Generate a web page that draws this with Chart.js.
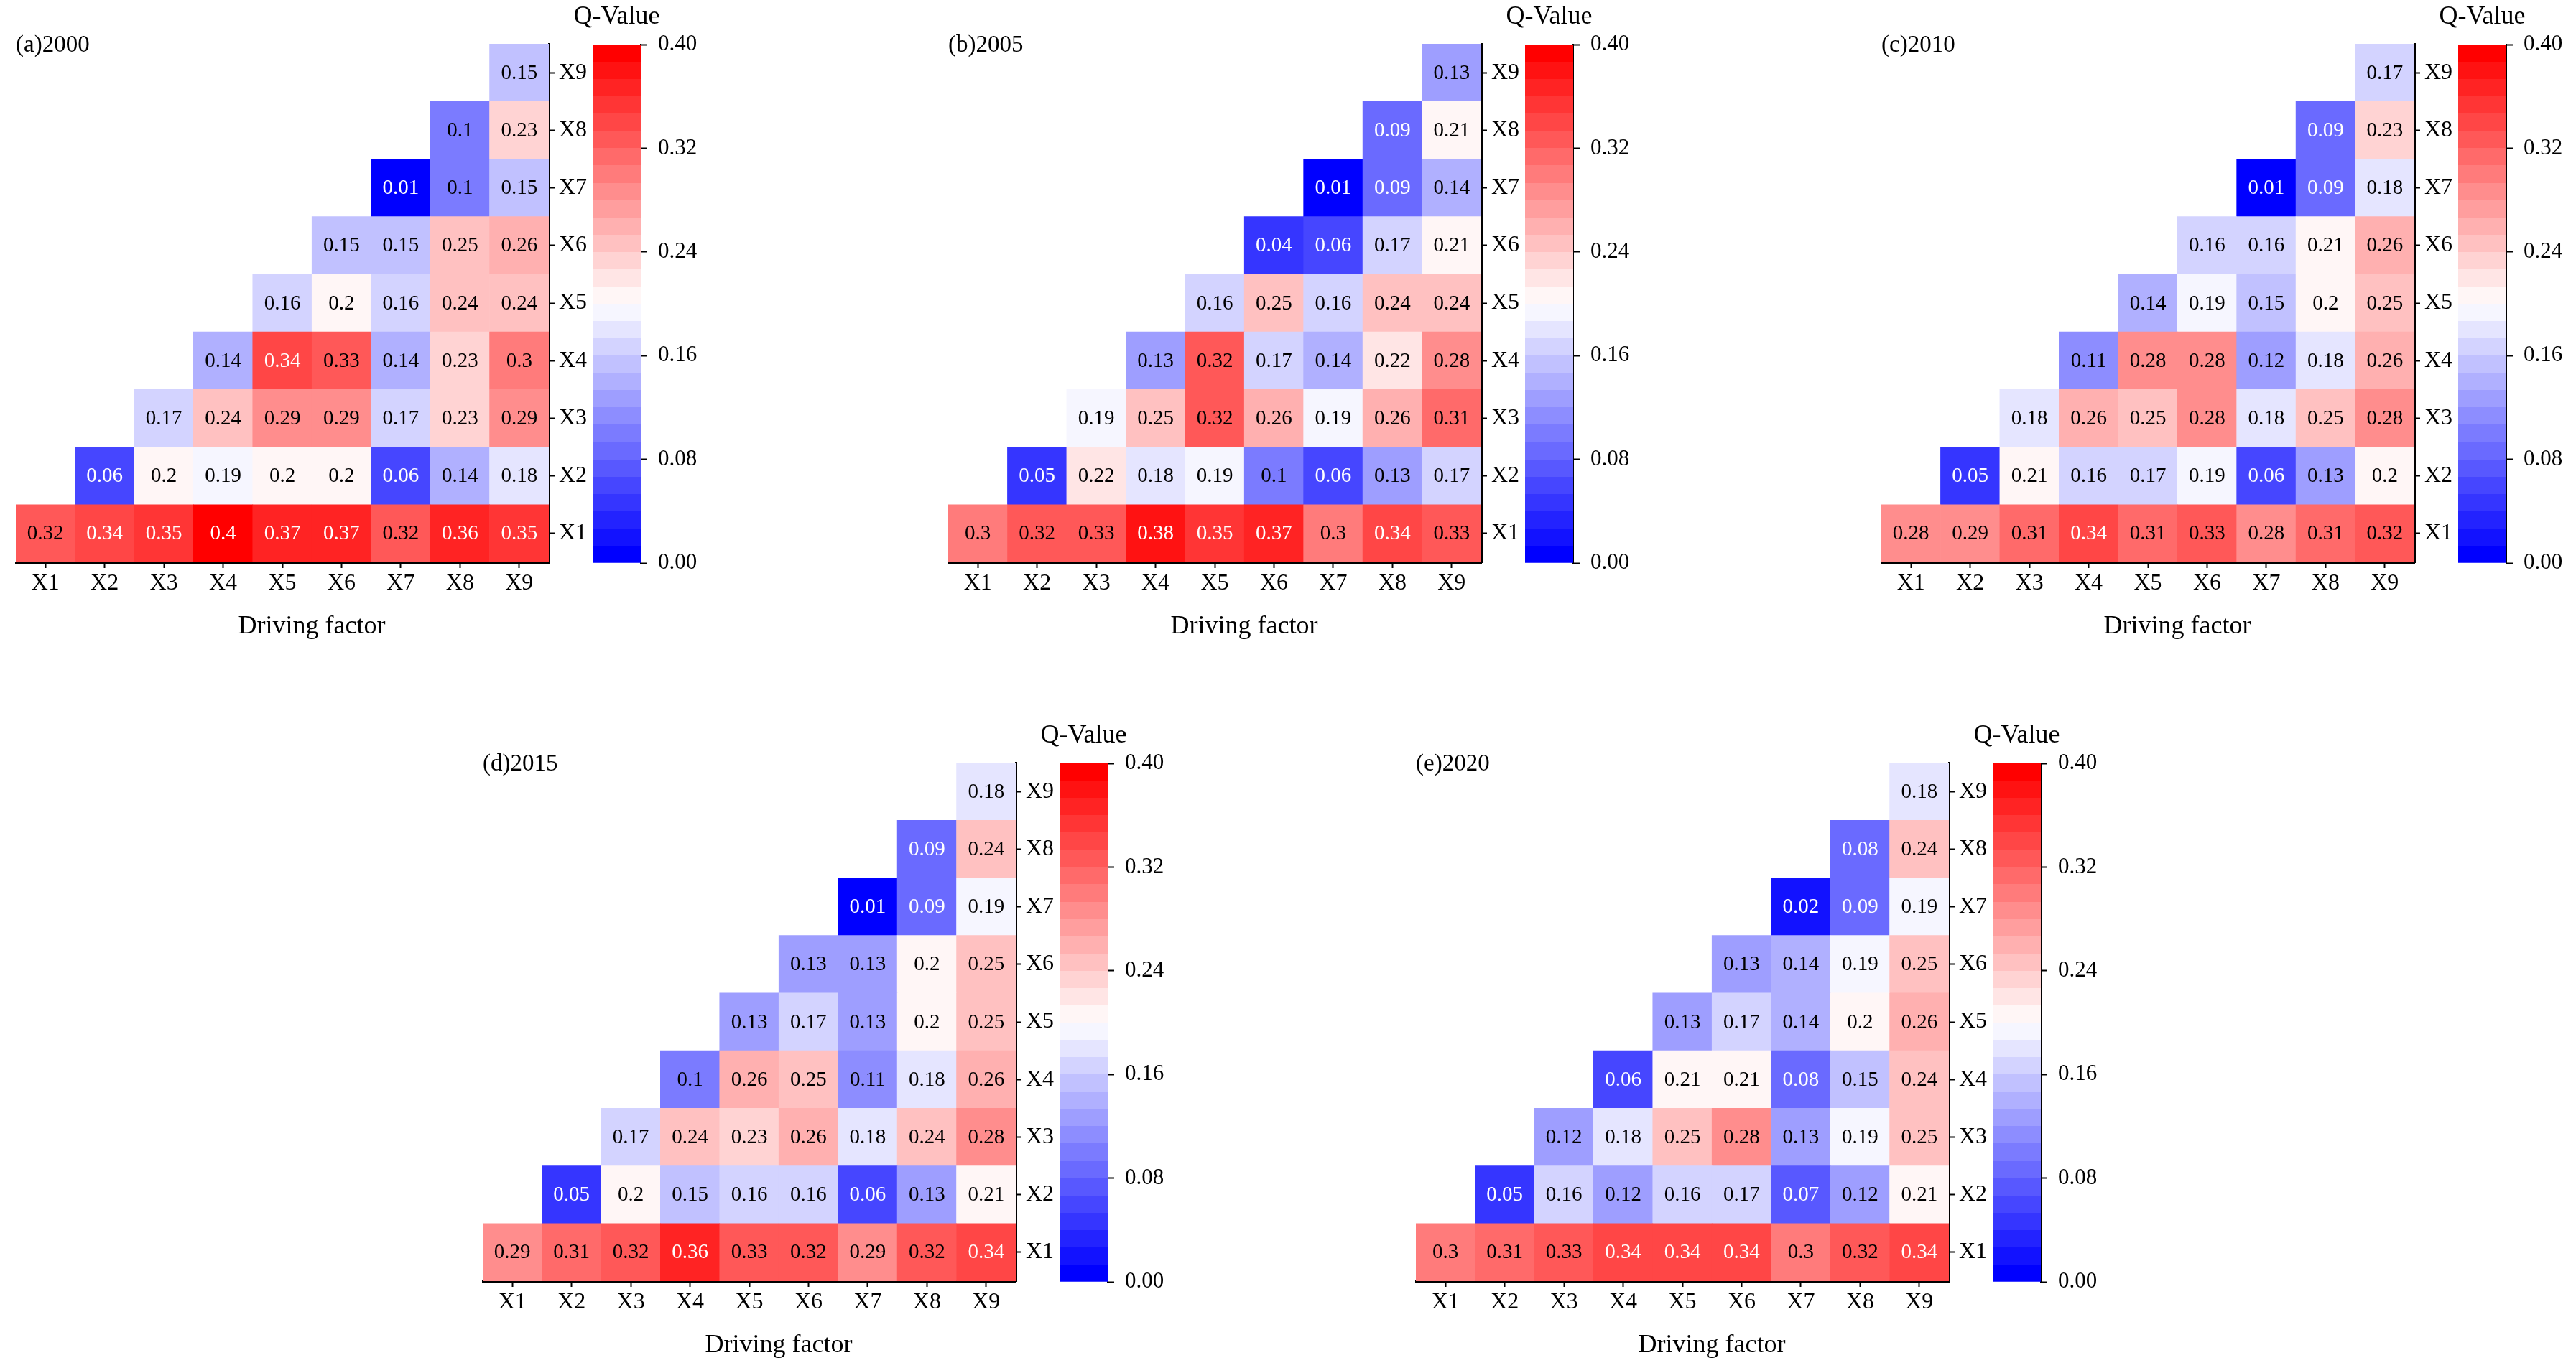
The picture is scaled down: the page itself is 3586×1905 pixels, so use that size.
<!DOCTYPE html>
<html>
<head>
<meta charset="utf-8">
<title>Q-Value of driving factor interactions</title>
<script src="https://cdn.jsdelivr.net/npm/chart.js@4.4.1/dist/chart.umd.min.js"></script>
<style>
  html, body { margin: 0; padding: 0; background: #fff; }
  #page { position: relative; width: 3586px; height: 1905px; overflow: hidden; background: #fff; }
  canvas { position: absolute; }
</style>
</head>
<body>
<div id="page"></div>
<script>
// factor names, bottom row / left column first
const factors = ['X1', 'X2', 'X3', 'X4', 'X5', 'X6', 'X7', 'X8', 'X9'];
const panelTitles = ['(a)2000', '(b)2005', '(c)2010', '(d)2015', '(e)2020'];
const xTitle = 'Driving factor';

// each row Xi holds the values for columns Xi..X9
const q2000 = [
  [0.32, 0.34, 0.35, 0.4, 0.37, 0.37, 0.32, 0.36, 0.35],
  [0.06, 0.2, 0.19, 0.2, 0.2, 0.06, 0.14, 0.18],
  [0.17, 0.24, 0.29, 0.29, 0.17, 0.23, 0.29],
  [0.14, 0.34, 0.33, 0.14, 0.23, 0.3],
  [0.16, 0.2, 0.16, 0.24, 0.24],
  [0.15, 0.15, 0.25, 0.26],
  [0.01, 0.1, 0.15],
  [0.1, 0.23],
  [0.15]
];
const q2005 = [
  [0.3, 0.32, 0.33, 0.38, 0.35, 0.37, 0.3, 0.34, 0.33],
  [0.05, 0.22, 0.18, 0.19, 0.1, 0.06, 0.13, 0.17],
  [0.19, 0.25, 0.32, 0.26, 0.19, 0.26, 0.31],
  [0.13, 0.32, 0.17, 0.14, 0.22, 0.28],
  [0.16, 0.25, 0.16, 0.24, 0.24],
  [0.04, 0.06, 0.17, 0.21],
  [0.01, 0.09, 0.14],
  [0.09, 0.21],
  [0.13]
];
const q2010 = [
  [0.28, 0.29, 0.31, 0.34, 0.31, 0.33, 0.28, 0.31, 0.32],
  [0.05, 0.21, 0.16, 0.17, 0.19, 0.06, 0.13, 0.2],
  [0.18, 0.26, 0.25, 0.28, 0.18, 0.25, 0.28],
  [0.11, 0.28, 0.28, 0.12, 0.18, 0.26],
  [0.14, 0.19, 0.15, 0.2, 0.25],
  [0.16, 0.16, 0.21, 0.26],
  [0.01, 0.09, 0.18],
  [0.09, 0.23],
  [0.17]
];
const q2015 = [
  [0.29, 0.31, 0.32, 0.36, 0.33, 0.32, 0.29, 0.32, 0.34],
  [0.05, 0.2, 0.15, 0.16, 0.16, 0.06, 0.13, 0.21],
  [0.17, 0.24, 0.23, 0.26, 0.18, 0.24, 0.28],
  [0.1, 0.26, 0.25, 0.11, 0.18, 0.26],
  [0.13, 0.17, 0.13, 0.2, 0.25],
  [0.13, 0.13, 0.2, 0.25],
  [0.01, 0.09, 0.19],
  [0.09, 0.24],
  [0.18]
];
const q2020 = [
  [0.3, 0.31, 0.33, 0.34, 0.34, 0.34, 0.3, 0.32, 0.34],
  [0.05, 0.16, 0.12, 0.16, 0.17, 0.07, 0.12, 0.21],
  [0.12, 0.18, 0.25, 0.28, 0.13, 0.19, 0.25],
  [0.06, 0.21, 0.21, 0.08, 0.15, 0.24],
  [0.13, 0.17, 0.14, 0.2, 0.26],
  [0.13, 0.14, 0.19, 0.25],
  [0.02, 0.09, 0.19],
  [0.08, 0.24],
  [0.18]
];
const panelData = [q2000, q2005, q2010, q2015, q2020];

// colour bar
const cbTicks = [0, 0.08, 0.16, 0.24, 0.32, 0.4];
const cbTickLabels = ['0.00', '0.08', '0.16', '0.24', '0.32', '0.40'];
const qMin = 0, qMax = 0.4, nLevels = 30;

// panel offsets on the page
const panelOrigins = [[0, 0], [1298, 0], [2597, 0], [650, 1001], [1949, 1001]];

Chart.defaults.font.family = '"Liberation Serif", "Times New Roman", serif';
Chart.defaults.color = '#000';

function bwr(t) {
  let r, g, b;
  if (t < 0.5) {
    r = g = Math.round(255 * t / 0.5); b = 255;
  } else {
    r = 255; g = b = Math.round(255 * (1 - t) / 0.5);
  }
  return 'rgb(' + r + ',' + g + ',' + b + ')';
}

function levelColor(v) {
  let k = Math.floor((v - qMin) / (qMax - qMin) * nLevels + 1e-9);
  k = Math.max(0, Math.min(nLevels - 1, k));
  return bwr(k / (nLevels - 1));
}

function textColor(v) {
  return (v <= 0.09 || v >= 0.34) ? '#fff' : '#000';
}

function colorbarFill(c) {
  const area = c.chart.chartArea;
  if (!area) return null;
  const g = c.chart.ctx.createLinearGradient(0, area.bottom, 0, area.top);
  for (let k = 0; k < nLevels; k++) {
    const col = bwr(k / (nLevels - 1));
    g.addColorStop(k / nLevels, col);
    g.addColorStop((k + 1) / nLevels, col);
  }
  return g;
}

const cellLabels = {
  id: 'cellLabels',
  afterDatasetsDraw(chart, args, opts) {
    const ctx = chart.ctx;
    ctx.save();
    ctx.font = '29px "Liberation Serif", serif';
    ctx.textAlign = 'center';
    ctx.textBaseline = 'middle';
    chart.data.datasets.forEach((ds, r) => {
      chart.getDatasetMeta(r).data.forEach((el, j) => {
        if (ds.data[j] == null) return;
        const v = opts.rows[r][j - r];
        ctx.fillStyle = textColor(v);
        ctx.fillText(String(v), el.x, (el.y + el.base) / 2 + 1);
      });
    });
    ctx.restore();
  }
};

// panel caption top-left and the axis caption under the x labels
const panelText = {
  id: 'panelText',
  afterDraw(chart, args, opts) {
    const ctx = chart.ctx;
    const area = chart.chartArea;
    ctx.save();
    ctx.fillStyle = '#000';
    ctx.textBaseline = 'middle';
    ctx.font = '33px "Liberation Serif", serif';
    ctx.textAlign = 'left';
    ctx.fillText(opts.text, area.left, area.top + 2);
    ctx.font = '36px "Liberation Serif", serif';
    ctx.textAlign = 'center';
    ctx.fillText(opts.xTitle, (area.left + area.right) / 2 + 41, area.bottom + 90);
    ctx.restore();
  }
};

const barTitle = {
  id: 'barTitle',
  afterDraw(chart, args, opts) {
    const ctx = chart.ctx;
    const area = chart.chartArea;
    ctx.save();
    ctx.font = '36px "Liberation Serif", serif';
    ctx.fillStyle = '#000';
    ctx.textAlign = 'center';
    ctx.textBaseline = 'middle';
    ctx.fillText(opts.text, (area.left + area.right) / 2, area.top - 38);
    ctx.restore();
  }
};

function addCanvas(left, top, w, h) {
  const c = document.createElement('canvas');
  c.width = w; c.height = h;
  c.style.left = left + 'px';
  c.style.top = top + 'px';
  c.style.width = w + 'px';
  c.style.height = h + 'px';
  document.getElementById('page').appendChild(c);
  return c;
}

const axisGrid = { drawOnChartArea: false, color: '#000', tickWidth: 2 };

function drawHeatmap(rows, title, ox, oy) {
  const canvas = addCanvas(ox + 12, oy + 21, 822, 874);
  new Chart(canvas, {
    type: 'bar',
    data: {
      labels: factors,
      datasets: rows.map((vals, r) => ({
        data: factors.map((f, j) => j >= r ? [r, r + 1] : null),
        backgroundColor: factors.map((f, j) => j >= r ? levelColor(vals[j - r]) : 'rgba(0,0,0,0)'),
        borderWidth: 0
      }))
    },
    options: {
      responsive: false,
      animation: false,
      devicePixelRatio: 1,
      layout: { padding: { left: 10, top: 40, right: 0, bottom: 0 } },
      datasets: { bar: { grouped: false, barPercentage: 1, categoryPercentage: 1 } },
      plugins: {
        legend: { display: false },
        tooltip: { enabled: false },
        cellLabels: { rows: rows },
        panelText: { text: title, xTitle: xTitle }
      },
      scales: {
        x: {
          type: 'category',
          offset: true,
          grid: Object.assign({ offset: false, tickLength: 8 }, axisGrid),
          border: { display: true, color: '#000', width: 3 },
          ticks: { font: { size: 32 }, color: '#000', padding: 2, maxRotation: 0, autoSkip: false },
          afterFit(s) { s.height = 112; }
        },
        y: {
          type: 'linear',
          position: 'right',
          min: 0,
          max: factors.length,
          grid: Object.assign({ tickLength: 8 }, axisGrid),
          border: { display: true, color: '#000', width: 3 },
          afterBuildTicks(s) { s.ticks = factors.map((f, i) => ({ value: i + 0.5 })); },
          ticks: { font: { size: 32 }, color: '#000', padding: 6, autoSkip: false, callback: (v, i) => factors[i] },
          afterFit(s) { s.width = 70; }
        }
      }
    },
    plugins: [cellLabels, panelText]
  });
}

function drawColorbar(ox, oy) {
  const canvas = addCanvas(ox + 780, oy, 202, 834);
  new Chart(canvas, {
    type: 'bar',
    data: {
      labels: ['Q-Value'],
      datasets: [{ data: [[qMin, qMax]], backgroundColor: colorbarFill, borderWidth: 0 }]
    },
    options: {
      responsive: false,
      animation: false,
      devicePixelRatio: 1,
      layout: { padding: { left: 45, top: 62, right: 0, bottom: 50 } },
      datasets: { bar: { barPercentage: 1, categoryPercentage: 1 } },
      plugins: {
        legend: { display: false },
        tooltip: { enabled: false },
        barTitle: { text: 'Q-Value' }
      },
      scales: {
        x: { display: false },
        y: {
          type: 'linear',
          position: 'right',
          min: qMin,
          max: qMax,
          grid: Object.assign({ tickLength: 9 }, axisGrid),
          border: { display: true, color: '#000', width: 2 },
          afterBuildTicks(s) { s.ticks = cbTicks.map(v => ({ value: v })); },
          ticks: { font: { size: 31 }, color: '#000', padding: 15, callback: (v, i) => cbTickLabels[i] },
          afterFit(s) { s.width = 90; }
        }
      }
    },
    plugins: [barTitle]
  });
}

panelData.forEach((rows, i) => {
  const [ox, oy] = panelOrigins[i];
  drawHeatmap(rows, panelTitles[i], ox, oy);
  drawColorbar(ox, oy);
});
</script>
</body>
</html>
